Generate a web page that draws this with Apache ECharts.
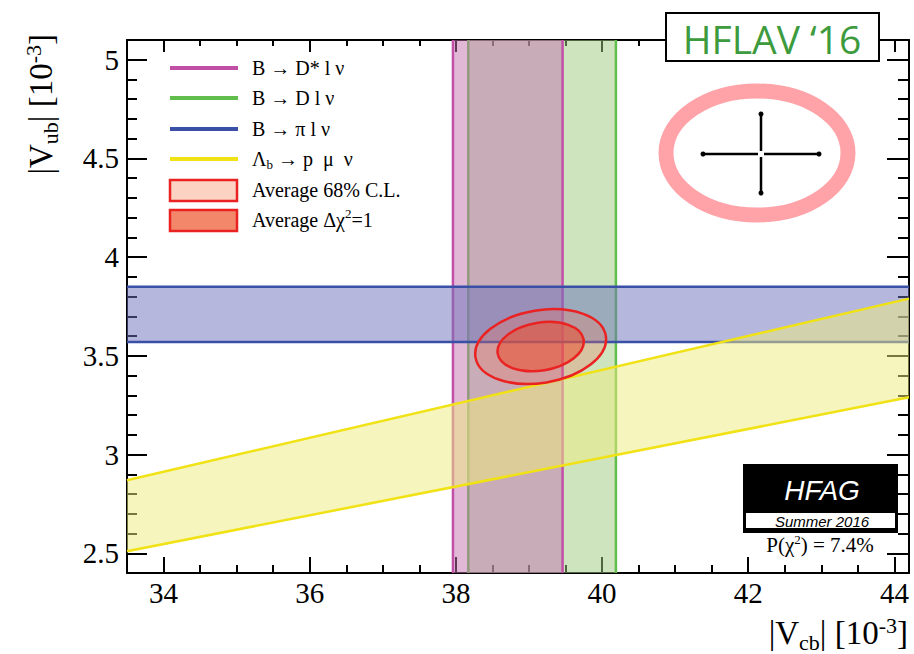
<!DOCTYPE html>
<html><head><meta charset="utf-8">
<script src="https://cdn.jsdelivr.net/npm/echarts@6/dist/echarts.min.js"></script>
<style>html,body{margin:0;padding:0;background:#fff}#c{width:914px;height:654px}</style>
</head><body><div id="c"></div><script>
// ---- data ----
const xRange = [33.5, 44.2];              // |Vcb| [1e-3]
const yRange = [2.4, 5.1];                // |Vub| [1e-3]
const xTickLabels = ['34', '36', '38', '40', '42', '44'];
const yTickLabels = ['2.5', '3', '3.5', '4', '4.5', '5'];
const vcbDstar = [37.96, 39.46];          // B -> D* l nu band (lower, upper)
const vcbD = [38.17, 40.19];              // B -> D l nu band
const vubPi = [3.57, 3.85];               // B -> pi l nu band
const lambdaLower = [[33.5, 2.51], [44.2, 3.29]];  // Lambda_b -> p mu nu, lower edge
const lambdaUpper = [[33.5, 2.87], [44.2, 3.79]];  // Lambda_b -> p mu nu, upper edge
const avgCenter = [39.16, 3.547];         // fit average
const avgSigma = [0.59, 0.125];
const avgRho = 0.2;
const avgLevels = [2.30, 1.0];            // 68% C.L. (2D), delta chi2 = 1
const pChi2Text = '7.4%';

const SERIF = 'Liberation Serif';
const cGreen = { fill: 'rgba(155,201,125,0.5)', stroke: '#62be4c' };
const cMag = { fill: 'rgba(195,115,175,0.5)', stroke: '#c24fa8' };
const cBlue = { fill: 'rgba(107,113,185,0.5)', stroke: '#3a4fa6' };
const cYel = { fill: 'rgba(239,235,125,0.5)', stroke: '#f0e214' };
const cOuter = 'rgba(240,115,95,0.30)';
const cInner = 'rgba(235,80,50,0.55)';
const cRed = '#ea2222';

function vBand(col) {
  return function (params, api) {
    const a = api.coord([api.value(0), yRange[0]]);
    const b = api.coord([api.value(1), yRange[1]]);
    return { type: 'group', children: [
      { type: 'rect', shape: { x: a[0], y: b[1], width: b[0] - a[0], height: a[1] - b[1] }, style: { fill: col.fill } },
      { type: 'line', shape: { x1: a[0], y1: a[1], x2: a[0], y2: b[1] }, style: { stroke: col.stroke, lineWidth: 2.5 } },
      { type: 'line', shape: { x1: b[0], y1: a[1], x2: b[0], y2: b[1] }, style: { stroke: col.stroke, lineWidth: 2.5 } }
    ] };
  };
}
function hBand(col) {
  return function (params, api) {
    const a = api.coord([xRange[0], api.value(0)]);
    const b = api.coord([xRange[1], api.value(1)]);
    return { type: 'group', children: [
      { type: 'rect', shape: { x: a[0], y: b[1], width: b[0] - a[0], height: a[1] - b[1] }, style: { fill: col.fill } },
      { type: 'line', shape: { x1: a[0], y1: a[1], x2: b[0], y2: a[1] }, style: { stroke: col.stroke, lineWidth: 2.5 } },
      { type: 'line', shape: { x1: a[0], y1: b[1], x2: b[0], y2: b[1] }, style: { stroke: col.stroke, lineWidth: 2.5 } }
    ] };
  };
}
function slopeBand(col) {
  return function (params, api) {
    const l0 = api.coord(lambdaLower[0]), l1 = api.coord(lambdaLower[1]);
    const u0 = api.coord(lambdaUpper[0]), u1 = api.coord(lambdaUpper[1]);
    return { type: 'group', children: [
      { type: 'polygon', shape: { points: [l0, l1, u1, u0] }, style: { fill: col.fill } },
      { type: 'line', shape: { x1: l0[0], y1: l0[1], x2: l1[0], y2: l1[1] }, style: { stroke: col.stroke, lineWidth: 2.5 } },
      { type: 'line', shape: { x1: u0[0], y1: u0[1], x2: u1[0], y2: u1[1] }, style: { stroke: col.stroke, lineWidth: 2.5 } }
    ] };
  };
}
function ellipseItem(level, fill) {
  return function (params, api) {
    const c = api.coord([api.value(0), api.value(1)]);
    const s = api.size([avgSigma[0], avgSigma[1]]);
    const a = s[0] * s[0], d = s[1] * s[1], b = -avgRho * s[0] * s[1];
    const m = (a + d) / 2, r = Math.sqrt(((a - d) / 2) ** 2 + b * b);
    const theta = 0.5 * Math.atan2(2 * b, a - d);
    return { type: 'ellipse', x: c[0], y: c[1], rotation: -theta,
      shape: { cx: 0, cy: 0, rx: Math.sqrt(level * (m + r)), ry: Math.sqrt(level * (m - r)) },
      style: { fill: fill, stroke: cRed, lineWidth: 2.5 } };
  };
}

const richBase = {
  s: { fontSize: 13, fontFamily: SERIF, verticalAlign: 'top', padding: [12, 0, 0, 0] },
  p: { fontSize: 13, fontFamily: SERIF, verticalAlign: 'top' }
};
const richBig = {
  s: { fontSize: 22, fontFamily: SERIF, verticalAlign: 'top', padding: [17, 0, 0, 0] },
  p: { fontSize: 22, fontFamily: SERIF, verticalAlign: 'top' }
};
const tickRich = { t: { fontFamily: SERIF, fontSize: 29, color: '#000' } };
function legText(y, text) {
  return { type: 'text', x: 252, y: y, z: 10,
    style: { text: text, rich: richBase, fontSize: 20, lineHeight: 26, fontFamily: SERIF, fill: '#000', align: 'left', verticalAlign: 'middle' } };
}
function legLine(y, color) {
  return { type: 'rect', z: 10, shape: { x: 170, y: y - 2, width: 68, height: 4 }, style: { fill: color } };
}
function legBox(y, fill) {
  return { type: 'rect', z: 10, shape: { x: 170, y: y - 10, width: 67, height: 21 }, style: { fill: fill, stroke: cRed, lineWidth: 2.5 } };
}

const axisCommon = {
  type: 'value', splitLine: { show: false },
  axisLine: { show: true, onZero: false, lineStyle: { color: '#000', width: 2 } }
};
const xBase = Object.assign({}, axisCommon, { min: xRange[0], max: xRange[1], splitNumber: 5 });
const yBase = Object.assign({}, axisCommon, { min: yRange[0], max: yRange[1], splitNumber: 5 });

const option = {
  animation: false,
  backgroundColor: '#fff',
  textStyle: { fontFamily: SERIF },
  grid: { left: 127, right: 5, top: 40, bottom: 81 },
  xAxis: [
    Object.assign({}, xBase, { position: 'bottom',
      axisTick: { inside: true, length: 16, lineStyle: { color: '#000', width: 2 } },
      minorTick: { show: true, splitNumber: 4, length: 8, lineStyle: { color: '#000', width: 2 } },
      axisLabel: { fontFamily: SERIF, fontSize: 29, color: '#000', margin: 5, rich: tickRich,
        formatter: v => xTickLabels.includes(String(v)) ? '{t|' + String(v) + '}' : '' } }),
    Object.assign({}, xBase, { position: 'top',
      axisTick: { inside: true, length: 12, lineStyle: { color: '#000', width: 2 } },
      minorTick: { show: true, splitNumber: 4, length: 6, lineStyle: { color: '#000', width: 2 } },
      axisLabel: { show: false } })
  ],
  yAxis: [
    Object.assign({}, yBase, { position: 'left',
      axisTick: { inside: true, length: 20, lineStyle: { color: '#000', width: 2 } },
      minorTick: { show: true, splitNumber: 5, length: 10, lineStyle: { color: '#000', width: 2 } },
      axisLabel: { fontFamily: SERIF, fontSize: 29, color: '#000', margin: 8, rich: tickRich,
        formatter: v => yTickLabels.includes(String(v)) ? '{t|' + String(v) + '}' : '' } }),
    Object.assign({}, yBase, { position: 'right',
      axisTick: { inside: true, length: 22, lineStyle: { color: '#000', width: 2 } },
      minorTick: { show: true, splitNumber: 5, length: 11, lineStyle: { color: '#000', width: 2 } },
      axisLabel: { show: false } })
  ],
  series: [
    { type: 'custom', name: 'B → D l ν', renderItem: vBand(cGreen), data: [vcbD] },
    { type: 'custom', name: 'B → D* l ν', renderItem: vBand(cMag), data: [vcbDstar] },
    { type: 'custom', name: 'B → π l ν', renderItem: hBand(cBlue), data: [vubPi] },
    { type: 'custom', name: 'Λb → p μ ν', renderItem: slopeBand(cYel), data: [lambdaLower[0]] },
    { type: 'custom', name: 'Average 68% C.L.', renderItem: ellipseItem(avgLevels[0], cOuter), data: [avgCenter] },
    { type: 'custom', name: 'Average Δχ2=1', renderItem: ellipseItem(avgLevels[1], cInner), data: [avgCenter] }
  ],
  graphic: [
    // legend
    legLine(68, '#c04fa5'), legText(68, 'B → D* l ν'),
    legLine(98, '#62be4c'), legText(98, 'B → D l ν'),
    legLine(129, '#3a4fa6'), legText(129, 'B → π l ν'),
    legLine(159, '#f0e214'), legText(159, 'Λ{s|b} → p  μ  ν'),
    legBox(190, '#fcd2c2'), legText(190, 'Average 68% C.L.'),
    legBox(220, '#f2876a'), legText(220, 'Average Δχ{p|2}=1'),
    // axis titles
    { type: 'text', x: 908, y: 633, z: 10,
      style: { text: '|V{s|cb}| [10{p|-3}]', rich: richBig, fontSize: 33, lineHeight: 38, fontFamily: SERIF, fill: '#000', align: 'right', verticalAlign: 'middle' } },
    { type: 'text', x: 41, y: 34, rotation: Math.PI / 2, z: 10,
      style: { text: '|V{s|ub}| [10{p|-3}]', rich: richBig, fontSize: 33, lineHeight: 38, fontFamily: SERIF, fill: '#000', align: 'right', verticalAlign: 'middle' } },
    // HFLAV badge
    { type: 'rect', z: 20, shape: { x: 666, y: 13, width: 213, height: 48 }, style: { fill: '#fff', stroke: '#000', lineWidth: 2 } },
    { type: 'text', z: 21, x: 772, y: 38, style: { text: 'HFLAV ‘16', fontFamily: 'Open Sans', fontSize: 39, fill: '#3d9b3d', align: 'center', verticalAlign: 'middle' } },
    // pink reference ellipse with cross
    { type: 'ellipse', z: 10, shape: { cx: 757, cy: 153, rx: 91, ry: 62 }, style: { fill: 'none', stroke: '#ffa3a8', lineWidth: 15 } },
    { type: 'line', z: 11, shape: { x1: 703, y1: 154, x2: 758, y2: 154 }, style: { stroke: '#000', lineWidth: 2.5 } },
    { type: 'line', z: 11, shape: { x1: 764, y1: 154, x2: 819, y2: 154 }, style: { stroke: '#000', lineWidth: 2.5 } },
    { type: 'line', z: 11, shape: { x1: 761, y1: 114, x2: 761, y2: 151 }, style: { stroke: '#000', lineWidth: 2.5 } },
    { type: 'line', z: 11, shape: { x1: 761, y1: 157, x2: 761, y2: 193 }, style: { stroke: '#000', lineWidth: 2.5 } },
    { type: 'circle', z: 11, shape: { cx: 703, cy: 154, r: 2.5 }, style: { fill: '#000' } },
    { type: 'circle', z: 11, shape: { cx: 819, cy: 154, r: 2.5 }, style: { fill: '#000' } },
    { type: 'circle', z: 11, shape: { cx: 761, cy: 114, r: 2.5 }, style: { fill: '#000' } },
    { type: 'circle', z: 11, shape: { cx: 761, cy: 193, r: 2.5 }, style: { fill: '#000' } },
    // HFAG logo
    { type: 'rect', z: 20, shape: { x: 743, y: 464, width: 155, height: 69 }, style: { fill: '#000' } },
    { type: 'rect', z: 21, shape: { x: 746, y: 513, width: 149, height: 15 }, style: { fill: '#fff' } },
    { type: 'text', z: 22, x: 822, y: 490, style: { text: 'HFAG', fontFamily: 'Liberation Sans', fontStyle: 'italic', fontSize: 28, fill: '#fff', align: 'center', verticalAlign: 'middle' } },
    { type: 'text', z: 22, x: 822, y: 521, style: { text: 'Summer 2016', fontFamily: 'Liberation Sans', fontStyle: 'italic', fontSize: 15, fill: '#000', align: 'center', verticalAlign: 'middle' } },
    { type: 'text', z: 22, x: 820, y: 545, style: { text: 'P(χ{p|2}) = ' + pChi2Text, rich: { p: { fontSize: 13, fontFamily: SERIF, verticalAlign: 'top' } }, fontSize: 21, lineHeight: 24, fontFamily: SERIF, fill: '#000', align: 'center', verticalAlign: 'middle' } }
  ]
};
const chart = echarts.init(document.getElementById('c'), null, { renderer: 'svg', width: 914, height: 654 });
chart.setOption(option);
</script></body></html>
